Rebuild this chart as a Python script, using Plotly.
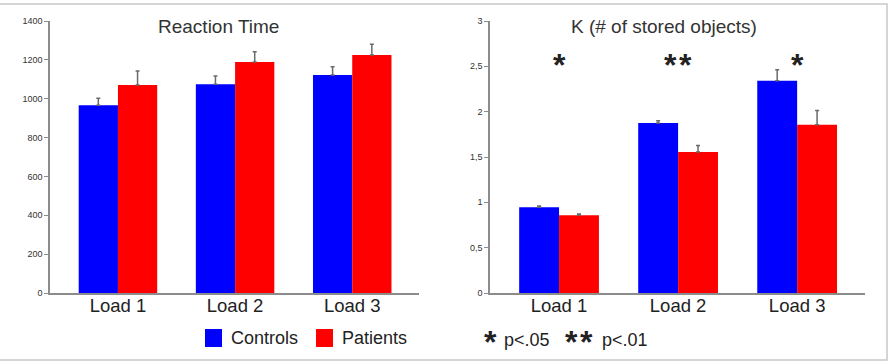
import plotly.graph_objects as go

categories = ["Load 1", "Load 2", "Load 3"]
rt_controls = [967, 1074, 1122]
rt_controls_err = [36, 43, 43]
rt_patients = [1071, 1189, 1225]
rt_patients_err = [72, 53, 55]
k_controls = [0.945, 1.874, 2.341]
k_controls_err = [0.015, 0.026, 0.122]
k_patients = [0.857, 1.555, 1.856]
k_patients_err = [0.015, 0.073, 0.158]
rt_ticks = [0, 200, 400, 600, 800, 1000, 1200, 1400]
k_ticks = [0, 0.5, 1, 1.5, 2, 2.5, 3]
k_ticktext = ["0", "0,5", "1", "1,5", "2", "2,5", "3"]
signif_stars = [1, 2, 1]

W, H = 891, 364
FONT = "Liberation Sans, Arial, sans-serif"
BLUE, RED = "#0000ff", "#ff0000"
ERRC = "#6a6a6a"

def px_x(p):
    return p / W

def px_y(p):
    return 1 - p / H

fig = go.Figure()

def add_bars(xa, ya, c, ce, p, pe):
    fig.add_trace(go.Bar(x=categories, y=c, name="Controls", marker=dict(color=BLUE, line=dict(width=0)),
                         error_y=dict(type="data", array=ce, arrayminus=[0]*3, symmetric=False,
                                      color=ERRC, thickness=1.5, width=2),
                         xaxis=xa, yaxis=ya, showlegend=False))
    fig.add_trace(go.Bar(x=categories, y=p, name="Patients", marker=dict(color=RED, line=dict(width=0)),
                         error_y=dict(type="data", array=pe, arrayminus=[0]*3, symmetric=False,
                                      color=ERRC, thickness=1.5, width=2),
                         xaxis=xa, yaxis=ya, showlegend=False))

add_bars("x", "y", rt_controls, rt_controls_err, rt_patients, rt_patients_err)
add_bars("x2", "y2", k_controls, k_controls_err, k_patients, k_patients_err)

ydom = [px_y(293), px_y(21)]
xcommon = dict(type="category", range=[-0.58, 2.57], showline=True, linecolor="#8c8c8c", linewidth=1.5,
               ticks="", showgrid=False, zeroline=False,
               tickfont=dict(family=FONT, size=18.5, color="#222"), ticklabelstandoff=-5)
ycommon = dict(showline=True, linecolor="#8c8c8c", linewidth=1.5, ticks="outside", ticklen=4,
               tickcolor="#8c8c8c", tickwidth=1, showgrid=False, zeroline=False,
               tickfont=dict(family=FONT, size=9, color="#333"))

fig.update_layout(
    width=W, height=H, margin=dict(l=0, r=0, t=0, b=0, autoexpand=False),
    paper_bgcolor="white", plot_bgcolor="white",
    barmode="group", bargap=0.33, bargroupgap=0,
    xaxis=dict(domain=[px_x(50), px_x(419)], anchor="y", automargin=False, **xcommon),
    yaxis=dict(domain=ydom, anchor="x", range=[0, 1400], tickvals=rt_ticks, automargin=False, **ycommon),
    xaxis2=dict(domain=[px_x(490), px_x(865)], anchor="y2", automargin=False, **xcommon),
    yaxis2=dict(domain=ydom, anchor="x2", range=[0, 3], tickvals=k_ticks, ticktext=k_ticktext,
                automargin=False, **ycommon),
    showlegend=False,
)

annotations = [
    dict(text="Reaction Time", x=px_x(218), y=px_y(27), xref="paper", yref="paper",
         xanchor="center", yanchor="middle",
         showarrow=False, font=dict(family=FONT, size=19, color="#333")),
    dict(text="K (# of stored objects)", x=px_x(664), y=px_y(27), xref="paper", yref="paper",
         xanchor="center", yanchor="middle",
         showarrow=False, font=dict(family=FONT, size=19, color="#333")),
]
for i, n in enumerate(signif_stars):
    offs = [0] if n == 1 else [-7.5, 7.5]
    for o in offs:
        annotations.append(dict(text="<b>*</b>", x=categories[i], y=2.52, xref="x2", yref="y2",
                                xshift=o, showarrow=False, xanchor="center", yanchor="middle",
                                font=dict(family=FONT, size=32, color="#222")))

def txt(t, x, y, size=18):
    return dict(text=t, x=px_x(x), y=px_y(y), xref="paper", yref="paper", xanchor="left",
                yanchor="middle", showarrow=False, font=dict(family=FONT, size=size, color="#222"))

annotations += [
    txt("Controls", 229, 338),
    txt("Patients", 340, 338),
    txt("<b>*</b>", 482, 342, 32),
    txt("p<.05", 502, 340),
    txt("<b>*</b>", 563, 342, 32),
    txt("<b>*</b>", 578, 342, 32),
    txt("p<.01", 600, 340),
]
fig.update_layout(annotations=annotations)

shapes = [
    dict(type="rect", xref="paper", yref="paper", x0=px_x(205), x1=px_x(222), y0=px_y(347), y1=px_y(329),
         fillcolor=BLUE, line=dict(width=0)),
    dict(type="rect", xref="paper", yref="paper", x0=px_x(316), x1=px_x(333), y0=px_y(347), y1=px_y(329),
         fillcolor=RED, line=dict(width=0)),
    dict(type="rect", xref="paper", yref="paper", x0=px_x(-2), x1=px_x(887), y0=px_y(360), y1=px_y(4),
         line=dict(color="#c8c8c8", width=1.5), fillcolor="rgba(0,0,0,0)"),
]
fig.update_layout(shapes=shapes)

fig.write_html("out.html")
